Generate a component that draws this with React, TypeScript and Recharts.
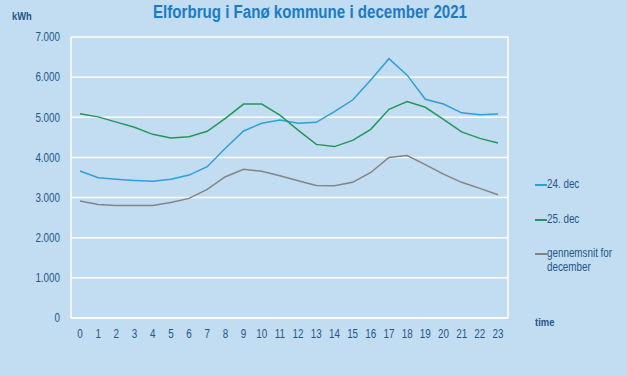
import React from "react";
import { CartesianGrid, Legend, Line, LineChart, XAxis, YAxis } from "recharts";

const hours = [0, 1, 2, 3, 4, 5, 6, 7, 8, 9, 10, 11, 12, 13, 14, 15, 16, 17, 18, 19, 20, 21, 22, 23];
const dec24 = [3660, 3495, 3455, 3425, 3405, 3455, 3560, 3770, 4230, 4660, 4850, 4930, 4850, 4875, 5140, 5430, 5930, 6460, 6050, 5450, 5330, 5110, 5065, 5080];
const dec25 = [5090, 5010, 4880, 4750, 4575, 4485, 4515, 4650, 4975, 5330, 5330, 5055, 4680, 4325, 4270, 4425, 4700, 5200, 5390, 5250, 4950, 4635, 4475, 4360];
const decAvg = [2915, 2830, 2805, 2800, 2805, 2875, 2980, 3205, 3520, 3705, 3655, 3545, 3420, 3300, 3295, 3380, 3625, 4000, 4045, 3820, 3585, 3380, 3230, 3070];
const yTicks = [0, 1000, 2000, 3000, 4000, 5000, 6000, 7000];

const seriesNames = ["24. dec", "25. dec", "gennemsnit for december"];
const legendLines = [["24. dec"], ["25. dec"], ["gennemsnit for", "december"]];
const colors = ["#2f9fda", "#23975a", "#848484"];

const data = hours.map((h, i) => ({ hour: h, d24: dec24[i], d25: dec25[i], avg: decAvg[i] }));

const BG = "#c2ddf1";
const TEXT = "#24568a";
const NARROW = 0.82;

// thousands separator as in Danish: 7.000
const fmt = (v: number) => String(v).replace(/\B(?=(\d{3})+(?!\d))/g, ".");

function XTick(props: any) {
  const { x, y, payload } = props;
  return (
    <g transform={`translate(${x},${y})`}>
      <text transform={`scale(${NARROW},1)`} textAnchor="middle" dy="0.71em" fill={TEXT} fontSize={12}>
        {payload.value}
      </text>
    </g>
  );
}

function YTick(props: any) {
  const { x, y, payload } = props;
  return (
    <g transform={`translate(${x},${y})`}>
      <text transform={`scale(${NARROW},1)`} textAnchor="end" dy="0.355em" fill={TEXT} fontSize={12}>
        {fmt(payload.value)}
      </text>
    </g>
  );
}

function LegendBox() {
  const tops = [0, 35, 69];
  return (
    <div style={{ position: "relative", width: 0, height: 0, overflow: "visible" }}>
      {legendLines.map((lines, i) => (
        <div key={i} style={{ position: "absolute", left: 0, top: tops[i] }}>
          <div style={{ position: "absolute", left: 0, top: 7, width: 12, height: 2, background: colors[i] }} />
          {lines.map((t, j) => (
            <div
              key={j}
              style={{
                position: "absolute",
                left: 12,
                top: j * 14,
                whiteSpace: "nowrap",
                fontSize: 12,
                lineHeight: "14px",
                color: TEXT,
                transform: `scaleX(${NARROW})`,
                transformOrigin: "left",
              }}
            >
              {t}
            </div>
          ))}
        </div>
      ))}
    </div>
  );
}

export default function App() {
  return (
    <div
      style={{
        position: "fixed",
        left: 0,
        top: 0,
        width: 627,
        height: 376,
        background: BG,
        fontFamily: "'Liberation Sans', Arial, sans-serif",
      }}
    >
      <svg width={627} height={30} style={{ position: "absolute", left: 0, top: 0 }}>
        <text x={153} y={18} textLength={314} lengthAdjust="spacingAndGlyphs" fontSize={18} fontWeight="bold" fill="#1b7bc8">
          Elforbrug i Fanø kommune i december 2021
        </text>
        <text x={12} y={20} fontSize={11.5} fontWeight="bold" fill={TEXT} transform={`translate(12,0) scale(${NARROW},1) translate(-12,0)`}>
          kWh
        </text>
      </svg>
      <div
        style={{
          position: "absolute",
          left: 535,
          top: 316,
          fontSize: 11.5,
          fontWeight: "bold",
          color: TEXT,
          transform: `scaleX(${NARROW})`,
          transformOrigin: "left",
        }}
      >
        time
      </div>
      <LineChart width={627} height={376} data={data} margin={{ top: 37, right: 118, bottom: 28, left: 0 }}>
        <CartesianGrid vertical={false} stroke="#ffffff" strokeWidth={1.5} yAxisId="kwh" />
        <XAxis
          dataKey="hour"
          height={30}
          padding={{ left: 9, right: 10 }}
          axisLine={{ stroke: "#ffffff", strokeWidth: 1.5 }}
          tickLine={false}
          tickSize={0}
          tickMargin={11}
          interval={0}
          tick={<XTick />}
        />
        <YAxis
          yAxisId="kwh"
          width={71}
          domain={[0, 7000]}
          ticks={yTicks}
          axisLine={{ stroke: "#ffffff", strokeWidth: 1.5 }}
          tickLine={false}
          tickSize={0}
          tickMargin={11}
          tick={<YTick />}
        />
        <YAxis
          yAxisId="frame"
          orientation="right"
          width={1}
          domain={[0, 7000]}
          axisLine={{ stroke: "#ffffff", strokeWidth: 1.5 }}
          tickLine={false}
          tick={false}
        />
        <Legend
          layout="vertical"
          verticalAlign="top"
          align="right"
          content={() => <LegendBox />}
          wrapperStyle={{ left: 535, top: 177, width: 0, height: 0 }}
        />
        <Line yAxisId="kwh" type="linear" dataKey="d24" name={seriesNames[0]} stroke={colors[0]} strokeWidth={1.5} dot={false} isAnimationActive={false} />
        <Line yAxisId="kwh" type="linear" dataKey="d25" name={seriesNames[1]} stroke={colors[1]} strokeWidth={1.5} dot={false} isAnimationActive={false} />
        <Line yAxisId="kwh" type="linear" dataKey="avg" name={seriesNames[2]} stroke={colors[2]} strokeWidth={1.5} dot={false} isAnimationActive={false} />
      </LineChart>
    </div>
  );
}
